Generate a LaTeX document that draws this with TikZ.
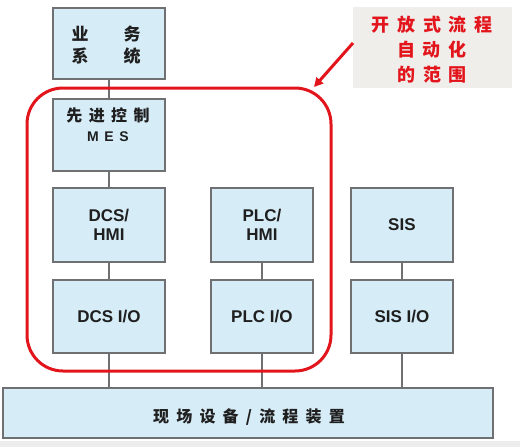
\documentclass[tikz,border=0pt]{standalone}
\usepackage{fontspec}
\setmainfont{Liberation Sans}
\newfontfamily\cjk{Noto Sans CJK SC}
\newfontfamily\cjkA[LetterSpace=42]{Noto Sans CJK SC}
\newfontfamily\cjkB[LetterSpace=40]{Noto Sans CJK SC}
\newfontfamily\cjkC[LetterSpace=45]{Noto Sans CJK SC}
\newfontfamily\latS[LetterSpace=40]{Liberation Sans}
\usetikzlibrary{arrows.meta}
\definecolor{boxfill}{HTML}{D6ECF7}
\definecolor{boxline}{HTML}{6E7072}
\definecolor{redline}{HTML}{E3151C}
\definecolor{callbg}{HTML}{EFEEEA}
\tikzset{
  unitbox/.style={draw=boxline, line width=1.8pt, fill=boxfill, inner sep=0pt, anchor=north west},
  link/.style={draw=boxline, line width=1.8pt},
  lbl/.style={font=\fontsize{17}{20}\selectfont\bfseries, align=center, text=black!88},
}
\begin{document}
\begin{tikzpicture}[x=1pt,y=-1pt]
\useasboundingbox (0,0) rectangle (520,447);
\fill[black!7] (0,441) rectangle (520,447);
% boxes
\node[unitbox, minimum width=112, minimum height=71] (biz) at (52,7) {};
\node[unitbox, minimum width=112, minimum height=72] (mes) at (52,98) {};
\node[unitbox, minimum width=112, minimum height=74] (dcsh) at (52,187) {};
\node[unitbox, minimum width=112, minimum height=73] (dcsio) at (52,279) {};
\node[unitbox, minimum width=102, minimum height=74] (plch) at (210,187) {};
\node[unitbox, minimum width=102, minimum height=73] (plcio) at (210,279) {};
\node[unitbox, minimum width=102, minimum height=74] (sis) at (350,187) {};
\node[unitbox, minimum width=102, minimum height=73] (sisio) at (350,279) {};
\node[unitbox, minimum width=490, minimum height=50] (field) at (2,387) {};
% connectors
\coordinate (fA) at (dcsio.south |- field.north);
\coordinate (fB) at (plcio.south |- field.north);
\coordinate (fC) at (sisio.south |- field.north);
\draw[link] (biz.south) -- (mes.north);
\draw[link] (mes.south) -- (dcsh.north);
\draw[link] (dcsh.south) -- (dcsio.north);
\draw[link] (dcsio.south) -- (fA);
\draw[link] (plch.south) -- (plcio.north);
\draw[link] (plcio.south) -- (fB);
\draw[link] (sis.south) -- (sisio.north);
\draw[link] (sisio.south) -- (fC);
% labels
\node[lbl, font=\cjk\fontsize{17}{20}\selectfont\bfseries] (t1) at (80,34) {业};
\node[lbl, font=\cjk\fontsize{17}{20}\selectfont\bfseries] (t2) at (132,34) {务};
\node[lbl, font=\cjk\fontsize{17}{20}\selectfont\bfseries] (t3) at (80,56) {系};
\node[lbl, font=\cjk\fontsize{17}{20}\selectfont\bfseries] (t4) at (132,56) {统};
\node[lbl, font=\cjkB\fontsize{16}{20}\selectfont\bfseries] (t5) at (108,115) {先进控制};
\node[lbl, font=\latS\fontsize{14}{20}\selectfont\bfseries] (t6) at (108,137) {MES};
\node[lbl] (t7) at (dcsh.center) {DCS/\\[-1pt]HMI};
\node[lbl] (t8) at (plch.center) {PLC/\\[-1pt]HMI};
\node[lbl] (t9) at (sis.center) {SIS};
\node[lbl] (t10) at (dcsio.center) {DCS I/O};
\node[lbl] (t11) at (plcio.center) {PLC I/O};
\node[lbl] (t12) at (sisio.center) {SIS I/O};
\node[lbl, font=\cjkC\fontsize{16}{20}\selectfont\bfseries] (t13) at (249,417) {现场设备/流程装置};
% scope frame
\draw[redline, line width=3pt, rounded corners=36pt] (27,88) rectangle (331,371);
% callout
\node[fill=callbg, minimum width=159, minimum height=81, inner sep=0pt, anchor=north west] (call) at (353,7) {};
\node[font=\cjkA\fontsize{18}{25}\selectfont\bfseries, text=redline, align=center] (ct) at (432,50) {开放式流程\\自动化\\的范围};
\coordinate (tip) at (314,87);
\draw[redline, line width=3pt, -{Triangle[length=9pt,width=9pt]}] (call.west |- 0,43) -- (tip);
\end{tikzpicture}
\end{document}
